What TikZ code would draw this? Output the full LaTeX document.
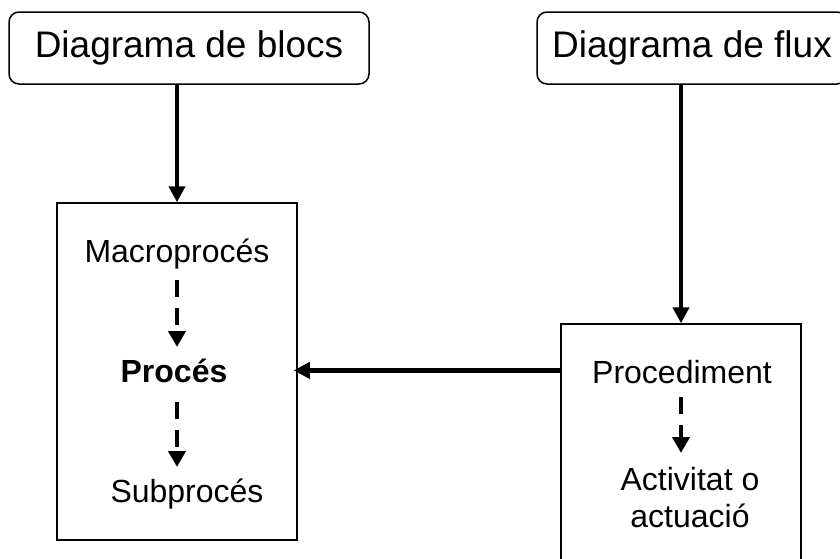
\documentclass[tikz,border=0pt]{standalone}
\usepackage{fontspec}
\setmainfont{Liberation Sans}
\usetikzlibrary{arrows.meta,calc}

\tikzset{
  titlebox/.style={draw, line width=1.5pt, rounded corners=10pt, inner sep=0pt,
    minimum height=72pt, font=\fontsize{37}{44}\selectfont},
  groupbox/.style={draw, line width=1.5pt, inner sep=0pt, minimum width=240pt},
  label/.style={inner sep=0pt, anchor=base, font=\fontsize{32}{37}\selectfont, align=center},
  mainarrow/.style={line width=4.5pt, -{Triangle[width=16pt,length=16pt]}},
  subarrow/.style={line width=4.5pt, dash pattern=on 17pt off 11pt,
    -{Triangle[width=17pt,length=16pt]}},
}

\begin{document}
\begin{tikzpicture}[x=1pt,y=-1pt]
  \useasboundingbox (0,0) rectangle (840,558);
  \clip (0,0) rectangle (840,558);

  % header boxes
  \node[titlebox, minimum width=360pt] (bl) at (189,48) {Diagrama de blocs};
  \node[titlebox, minimum width=310pt] (fl) at (692,48) {Diagrama de flux};

  % lower boxes
  \node[groupbox, minimum height=337pt] (lbox) at (177,371.5) {};
  \node[groupbox, minimum height=260pt] (rbox) at (681,454) {};

  % texts inside the left box
  \node[label] (macro) at (177,262) {Macroprocés};
  \node[label, font=\fontsize{32}{37}\selectfont\bfseries] (proc) at (174,382) {Procés};
  \node[label] (sub) at (187,502) {Subprocés};

  % texts inside the right box (base anchor sits on the last line)
  \node[label] (pdm) at (682,383) {Procediment};
  \node[label] (act) at (690,527) {Activitat o\\actuació};

  % main connectors
  \draw[mainarrow] (lbox.north |- bl.south) -- (lbox.north);
  \draw[mainarrow] (rbox.north |- fl.south) -- (rbox.north);
  \draw[mainarrow, shorten >=-4pt] (rbox.west |- proc.center) -- (lbox.east |- proc.center);

  % hierarchy arrows
  \draw[subarrow] ($(macro.base -| lbox.center)+(0,18)$) -- ($(proc.base -| lbox.center)+(0,-35)$);
  \draw[subarrow] ($(proc.base -| lbox.center)+(0,20)$) -- ($(sub.base -| lbox.center)+(0,-35)$);
  \draw[subarrow] ($(pdm.base -| rbox.center)+(0,14)$) -- ($(pdm.base -| rbox.center)+(0,70)$);
\end{tikzpicture}
\end{document}
